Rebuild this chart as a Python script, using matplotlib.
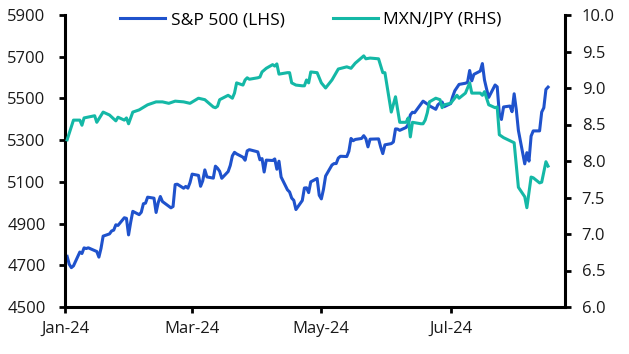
import pandas as pd
import matplotlib
matplotlib.use('Agg')
import matplotlib.pyplot as plt
import matplotlib.dates as mdates
from matplotlib.ticker import FormatStrFormatter

# S&P 500 daily closes
spx_dates = [
    '2024-01-02', '2024-01-03', '2024-01-04', '2024-01-05', '2024-01-08', '2024-01-09', '2024-01-10',
    '2024-01-11', '2024-01-12', '2024-01-16', '2024-01-17', '2024-01-18', '2024-01-19', '2024-01-22',
    '2024-01-23', '2024-01-24', '2024-01-25', '2024-01-26', '2024-01-29', '2024-01-30', '2024-01-31',
    '2024-02-01', '2024-02-02', '2024-02-05', '2024-02-06', '2024-02-07', '2024-02-08', '2024-02-09',
    '2024-02-12', '2024-02-13', '2024-02-14', '2024-02-15', '2024-02-16', '2024-02-20', '2024-02-21',
    '2024-02-22', '2024-02-23', '2024-02-26', '2024-02-27', '2024-02-28', '2024-02-29', '2024-03-01',
    '2024-03-04', '2024-03-05', '2024-03-06', '2024-03-07', '2024-03-08', '2024-03-11', '2024-03-12',
    '2024-03-13', '2024-03-14', '2024-03-15', '2024-03-18', '2024-03-19', '2024-03-20', '2024-03-21',
    '2024-03-22', '2024-03-25', '2024-03-26', '2024-03-27', '2024-03-28', '2024-04-01', '2024-04-02',
    '2024-04-03', '2024-04-04', '2024-04-05', '2024-04-08', '2024-04-09', '2024-04-10', '2024-04-11',
    '2024-04-12', '2024-04-15', '2024-04-16', '2024-04-17', '2024-04-18', '2024-04-19', '2024-04-22',
    '2024-04-23', '2024-04-24', '2024-04-25', '2024-04-26', '2024-04-29', '2024-04-30', '2024-05-01',
    '2024-05-02', '2024-05-03', '2024-05-06', '2024-05-07', '2024-05-08', '2024-05-09', '2024-05-10',
    '2024-05-13', '2024-05-14', '2024-05-15', '2024-05-16', '2024-05-17', '2024-05-20', '2024-05-21',
    '2024-05-22', '2024-05-23', '2024-05-24', '2024-05-28', '2024-05-29', '2024-05-30', '2024-05-31',
    '2024-06-03', '2024-06-04', '2024-06-05', '2024-06-06', '2024-06-07', '2024-06-10', '2024-06-11',
    '2024-06-12', '2024-06-13', '2024-06-14', '2024-06-17', '2024-06-18', '2024-06-20', '2024-06-21',
    '2024-06-24', '2024-06-25', '2024-06-26', '2024-06-27', '2024-06-28', '2024-07-01', '2024-07-02',
    '2024-07-03', '2024-07-05', '2024-07-08', '2024-07-09', '2024-07-10', '2024-07-11', '2024-07-12',
    '2024-07-15', '2024-07-16', '2024-07-17', '2024-07-18', '2024-07-19', '2024-07-22', '2024-07-23',
    '2024-07-24', '2024-07-25', '2024-07-26', '2024-07-29', '2024-07-30', '2024-07-31', '2024-08-01',
    '2024-08-02', '2024-08-05', '2024-08-06', '2024-08-07', '2024-08-08', '2024-08-09', '2024-08-12',
    '2024-08-13', '2024-08-14', '2024-08-15', '2024-08-16',
]
spx = [
    4742.8, 4704.8, 4688.7, 4697.2, 4763.5, 4756.5, 4783.5,
    4780.2, 4783.8, 4766.0, 4739.2, 4780.9, 4839.8, 4850.4,
    4864.6, 4868.6, 4894.2, 4891.0, 4927.9, 4925.0, 4845.7,
    4906.2, 4958.6, 4942.8, 4954.2, 4995.1, 4997.9, 5026.6,
    5021.8, 4953.2, 5000.6, 5029.7, 5005.6, 4975.5, 4981.8,
    5087.0, 5088.8, 5069.5, 5078.2, 5069.8, 5096.3, 5137.1,
    5131.0, 5078.7, 5104.8, 5157.4, 5123.7, 5117.9, 5175.3,
    5165.3, 5150.5, 5117.1, 5149.4, 5178.5, 5224.6, 5241.5,
    5234.2, 5218.2, 5203.6, 5248.5, 5254.4, 5243.8, 5205.8,
    5211.5, 5147.2, 5204.3, 5202.4, 5209.9, 5160.6, 5199.1,
    5123.4, 5061.8, 5051.4, 5022.2, 5011.1, 4967.2, 5010.6,
    5070.6, 5071.6, 5048.4, 5100.0, 5116.2, 5035.7, 5018.4,
    5064.2, 5127.8, 5180.7, 5187.7, 5187.7, 5214.1, 5222.7,
    5221.4, 5246.7, 5308.2, 5297.1, 5303.3, 5308.1, 5321.4,
    5307.0, 5267.8, 5304.7, 5306.0, 5267.0, 5235.5, 5277.5,
    5283.4, 5291.3, 5354.0, 5353.0, 5347.0, 5360.8, 5375.3,
    5421.0, 5433.7, 5431.6, 5473.2, 5487.0, 5473.2, 5464.6,
    5447.9, 5469.3, 5477.9, 5482.9, 5460.5, 5475.1, 5509.0,
    5537.0, 5567.2, 5572.9, 5577.0, 5633.9, 5584.5, 5615.4,
    5631.2, 5667.2, 5588.3, 5544.6, 5505.0, 5564.4, 5555.7,
    5427.1, 5399.2, 5459.1, 5463.5, 5436.4, 5522.3, 5446.7,
    5346.6, 5186.3, 5240.0, 5199.5, 5319.3, 5344.2, 5344.4,
    5434.4, 5455.2, 5543.2, 5554.3,
]

# MXN/JPY
mxn_dates = [
    '2024-01-02', '2024-01-05', '2024-01-08', '2024-01-09', '2024-01-10', '2024-01-15', '2024-01-16',
    '2024-01-19', '2024-01-22', '2024-01-25', '2024-01-26', '2024-01-29', '2024-01-30', '2024-01-31',
    '2024-02-02', '2024-02-05', '2024-02-09', '2024-02-13', '2024-02-16', '2024-02-19', '2024-02-22',
    '2024-02-26', '2024-02-29', '2024-03-04', '2024-03-07', '2024-03-11', '2024-03-12', '2024-03-13',
    '2024-03-14', '2024-03-18', '2024-03-19', '2024-03-20', '2024-03-21', '2024-03-22', '2024-03-25',
    '2024-03-26', '2024-03-27', '2024-03-28', '2024-04-01', '2024-04-02', '2024-04-03', '2024-04-05',
    '2024-04-08', '2024-04-09', '2024-04-10', '2024-04-11', '2024-04-15', '2024-04-16', '2024-04-17',
    '2024-04-19', '2024-04-22', '2024-04-23', '2024-04-24', '2024-04-25', '2024-04-26', '2024-04-29',
    '2024-05-01', '2024-05-03', '2024-05-06', '2024-05-09', '2024-05-13', '2024-05-15', '2024-05-17',
    '2024-05-21', '2024-05-22', '2024-05-24', '2024-05-28', '2024-05-30', '2024-05-31', '2024-06-03',
    '2024-06-05', '2024-06-07', '2024-06-10', '2024-06-11', '2024-06-12', '2024-06-13', '2024-06-17',
    '2024-06-18', '2024-06-19', '2024-06-20', '2024-06-21', '2024-06-24', '2024-06-26', '2024-06-27',
    '2024-06-28', '2024-07-01', '2024-07-04', '2024-07-05', '2024-07-08', '2024-07-10', '2024-07-11',
    '2024-07-15', '2024-07-16', '2024-07-17', '2024-07-19', '2024-07-22', '2024-07-23', '2024-07-24',
    '2024-07-26', '2024-07-31', '2024-08-02', '2024-08-05', '2024-08-06', '2024-08-08', '2024-08-09',
    '2024-08-12', '2024-08-13', '2024-08-15', '2024-08-16',
]
mxnjpy = [
    8.29, 8.56, 8.56, 8.49, 8.59, 8.62, 8.53,
    8.67, 8.63, 8.55, 8.60, 8.56, 8.59, 8.51,
    8.67, 8.70, 8.77, 8.81, 8.81, 8.79, 8.82,
    8.81, 8.79, 8.86, 8.84, 8.74, 8.73, 8.75,
    8.84, 8.90, 8.88, 8.86, 8.93, 9.07, 9.04,
    9.11, 9.14, 9.12, 9.14, 9.15, 9.22, 9.27,
    9.32, 9.30, 9.33, 9.19, 9.21, 9.21, 9.07,
    9.04, 9.03, 9.03, 9.11, 9.07, 9.22, 9.21,
    9.07, 9.00, 9.11, 9.26, 9.29, 9.27, 9.34,
    9.44, 9.40, 9.41, 9.40, 9.21, 9.21, 8.67,
    8.88, 8.53, 8.53, 8.59, 8.33, 8.53, 8.51,
    8.51, 8.56, 8.66, 8.81, 8.86, 8.84, 8.73,
    8.77, 8.79, 8.90, 8.86, 8.93, 9.07, 8.93,
    8.93, 8.90, 8.95, 8.77, 8.73, 8.74, 8.36,
    8.32, 8.25, 7.64, 7.51, 7.36, 7.78, 7.77,
    7.70, 7.71, 7.99, 7.93,
]

BLUE = '#1f52cc'
TEAL = '#14b8a6'

plt.rcParams['font.family'] = ['Open Sans', 'DejaVu Sans']
plt.rcParams['font.size'] = 12

fig = plt.figure(figsize=(6.29, 3.54), dpi=100)
ax = fig.add_axes([65/629, 1-307/354, 500/629, 292/354])
ax2 = ax.twinx()

l1, = ax.plot(pd.to_datetime(spx_dates), spx, c=BLUE, lw=2.2, label='S&P 500 (LHS)')
l2, = ax2.plot(pd.to_datetime(mxn_dates), mxnjpy, c=TEAL, lw=2.2, label='MXN/JPY (RHS)')

ax.set_ylim(4500, 5900)
ax.set_yticks(range(4500, 5901, 200))
ax2.set_ylim(6.0, 10.0)
ax2.set_yticks([6.0, 6.5, 7.0, 7.5, 8.0, 8.5, 9.0, 9.5, 10.0])
ax2.yaxis.set_major_formatter(FormatStrFormatter('%.1f'))

ax.set_xlim(pd.Timestamp('2024-01-01'), pd.Timestamp('2024-08-24'))
ax.set_xticks(pd.to_datetime(['2024-01-01', '2024-03-01', '2024-05-01', '2024-07-01']))
ax.xaxis.set_major_formatter(mdates.DateFormatter('%b-%y'))

for a in (ax, ax2):
    a.spines['top'].set_visible(False)
    for s in ('left', 'right', 'bottom'):
        a.spines[s].set_linewidth(2.2)
        a.spines[s].set_color('black')
    a.tick_params(width=2, length=4, colors='black', labelcolor='#1a1a1a', labelsize=12)
ax.spines['right'].set_visible(False)
ax2.spines['left'].set_visible(False)
ax2.spines['bottom'].set_visible(False)
ax.tick_params(axis='y', pad=10)
ax.tick_params(axis='x', pad=6)
ax2.tick_params(axis='y', pad=8)

fig.legend(handles=[l1, l2], loc='center', bbox_to_anchor=(311/629, 1-20/354), ncol=2,
           frameon=False, handlelength=2.6, columnspacing=2.8, handletextpad=0.3,
           fontsize=12.5, borderpad=0)

fig.savefig('out.png', dpi=100)
